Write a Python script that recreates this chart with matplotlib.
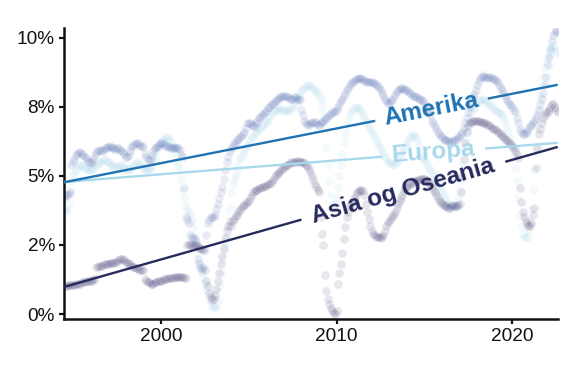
#!/usr/bin/env python3
"""Trend chart: monthly share by region with fitted trend lines and inline labels."""

import numpy as np
import pandas as pd
import matplotlib

matplotlib.use("Agg")
import matplotlib.pyplot as plt
import matplotlib.dates as mdates
from matplotlib.ticker import FuncFormatter

plt.rcParams["font.family"] = ["Liberation Sans", "DejaVu Sans"]

# monthly observations, Jul 1994 - Aug 2022 (percent)
start_month = "1994-07-01"
end_month = "2022-08-01"

amerika = [
    4.2, 4.3, 4.3, 4.35, 4.4, 5.4,
    5.5, 5.6, 5.75, 5.8, 5.85, 5.85, 5.8, 5.75, 5.7, 5.65, 5.55, 5.5,
    5.45, 5.5, 5.6, 5.75, 5.85, 5.9, 5.95, 5.95, 5.9, 5.95, 6.0, 6.05,
    6.05, 6.1, 6.05, 6.0, 6.0, 5.95, 6.0, 6.0, 5.95, 5.9, 5.85, 5.8,
    5.7, 5.7, 5.75, 5.9, 6.05, 6.1, 6.15, 6.2, 6.2, 6.15, 6.1, 6.1,
    6.05, 5.8, 5.7, 5.6, 5.55, 5.6, 5.75, 5.9, 6.0, 6.05, 6.1, 6.15,
    6.2, 6.2, 6.15, 6.1, 6.1, 6.05, 6.05, 6.0, 6.0, 6.0, 6.05, 6.0,
    6.0, 5.95, 5.75, 5.7, 4.55, 3.5, 3.4, 3.3, 2.85, 2.8, 2.75, 2.7,
    2.6, 2.0, 1.8, 1.65, 1.6, 1.7, 2.3, 2.85, 3.3, 3.4, 3.5, 3.5,
    3.5, 3.6, 3.8, 4.0, 4.2, 4.4, 4.6, 4.9, 5.2, 5.5, 5.7, 5.9,
    6.0, 6.1, 6.2, 6.2, 6.3, 6.35, 6.4, 6.45, 6.5, 6.6, 6.75, 6.9,
    6.9, 6.9, 6.85, 6.8, 6.8, 6.9, 7.0, 7.1, 7.15, 7.2, 7.25, 7.3,
    7.35, 7.45, 7.5, 7.55, 7.6, 7.65, 7.7, 7.75, 7.8, 7.85, 7.85, 7.9,
    7.9, 7.9, 7.85, 7.85, 7.8, 7.8, 7.8, 7.85, 7.85, 7.8, 7.8, 7.75,
    7.4, 7.2, 7.0, 6.9, 6.85, 6.85, 6.9, 6.9, 6.95, 6.95, 6.9, 6.85,
    6.85, 6.9, 6.95, 7.0, 7.05, 7.1, 7.15, 7.2, 7.25, 7.3, 7.3, 7.35,
    7.4, 7.5, 7.6, 7.7, 7.8, 7.9, 8.0, 8.1, 8.2, 8.3, 8.35, 8.4,
    8.45, 8.5, 8.5, 8.55, 8.55, 8.5, 8.5, 8.45, 8.45, 8.4, 8.4, 8.4,
    8.4, 8.35, 8.35, 8.3, 8.25, 8.2, 8.1, 8.0, 7.9, 7.8, 7.7, 7.65,
    7.65, 7.7, 7.75, 7.85, 7.95, 8.05, 8.1, 8.15, 8.2, 8.2, 8.15, 8.1,
    8.1, 8.05, 8.0, 7.95, 7.9, 7.9, 7.85, 7.85, 7.8, 7.8, 7.75, 7.7,
    7.6, 7.5, 7.4, 7.3, 7.2, 7.0, 6.9, 6.8, 6.7, 6.6, 6.5, 6.45,
    6.4, 6.35, 6.3, 6.3, 6.25, 6.25, 6.2, 6.25, 6.3, 6.3, 6.35, 6.4,
    6.45, 6.5, 6.6, 6.75, 6.9, 7.1, 7.3, 7.5, 7.7, 7.85, 7.95, 8.1,
    8.3, 8.45, 8.55, 8.6, 8.65, 8.6, 8.6, 8.55, 8.6, 8.6, 8.55, 8.5,
    8.5, 8.45, 8.4, 8.3, 8.2, 8.1, 8.0, 7.9, 7.8, 7.7, 7.6, 7.55,
    7.5, 7.4, 7.3, 7.1, 6.9, 6.7, 6.6, 6.5, 6.5, 6.55, 6.6, 6.7,
    6.8, 6.85, 6.9, 7.0, 7.1, 7.2, 7.4, 7.6, 7.8, 8.0, 8.3, 8.6,
    9.0, 9.3, 9.6, 9.9, 10.1, 10.2, 10.3, 10.2,
]

europa = [
    3.8, 3.7, 3.8, 4.0, 4.4, 4.8,
    5.0, 5.1, 5.2, 5.3, 5.35, 5.4, 5.4, 5.35, 5.3, 5.25, 5.2, 5.2,
    5.2, 5.25, 5.3, 5.35, 5.4, 5.45, 5.5, 5.5, 5.55, 5.6, 5.6, 5.55,
    5.5, 5.45, 5.4, 5.4, 5.35, 5.3, 5.3, 5.35, 5.4, 5.4, 5.35, 5.3,
    5.25, 5.2, 5.2, 5.25, 5.3, 5.35, 5.4, 5.45, 5.5, 5.45, 5.4, 5.35,
    5.3, 5.25, 5.2, 5.2, 5.25, 5.3, 5.4, 5.55, 5.7, 5.85, 6.0, 6.1,
    6.2, 6.3, 6.35, 6.4, 6.4, 6.35, 6.3, 6.2, 6.1, 6.0, 5.8, 5.5,
    5.4, 5.2, 4.9, 4.5, 4.2, 3.9, 3.75, 3.7, 3.6, 3.4, 3.1, 2.8,
    2.5, 2.2, 1.9, 1.7, 1.5, 1.3, 1.1, 0.9, 0.7, 0.5, 0.35, 0.25,
    0.3, 0.2, 0.25, 0.5, 1.0, 1.5, 2.0, 2.3, 2.6, 2.8, 3.2, 3.8,
    4.4, 4.7, 4.9, 5.0, 5.2, 5.4, 5.6, 5.7, 5.8, 5.9, 6.0, 6.1,
    6.2, 6.3, 6.4, 6.45, 6.5, 6.6, 6.65, 6.7, 6.75, 6.8, 6.85, 6.9,
    6.95, 7.0, 7.1, 7.2, 7.3, 7.35, 7.4, 7.4, 7.45, 7.45, 7.4, 7.4,
    7.4, 7.4, 7.35, 7.35, 7.4, 7.45, 7.5, 7.6, 7.7, 7.8, 7.9, 8.0,
    8.1, 8.15, 8.2, 8.25, 8.3, 8.3, 8.25, 8.2, 8.15, 8.1, 8.05, 8.0,
    7.9, 7.8, 7.6, 7.3, 6.8, 6.0, 5.4, 4.8, 4.3, 4.0, 3.9, 4.0,
    4.2, 4.6, 5.0, 5.4, 5.8, 6.2, 6.5, 6.8, 7.0, 7.2, 7.3, 7.4,
    7.45, 7.5, 7.5, 7.45, 7.4, 7.3, 7.2, 7.1, 7.0, 6.9, 6.8, 6.7,
    6.6, 6.5, 6.4, 6.3, 6.2, 6.1, 6.0, 5.9, 5.8, 5.7, 5.6, 5.5,
    5.5, 5.45, 5.4, 5.4, 5.45, 5.5, 5.6, 5.7, 5.8, 5.9, 6.0, 6.1,
    6.2, 6.3, 6.4, 6.45, 6.5, 6.45, 6.4, 6.3, 6.1, 5.9, 5.7, 5.6,
    5.6, 5.5, 5.4, 5.3, 5.2, 5.1, 5.0, 4.9, 4.8, 4.7, 4.6, 4.5,
    4.4, 4.3, 4.2, 4.1, 4.0, 3.95, 3.9, 3.85, 3.85, 3.9, 4.0, 4.2,
    4.5, 4.9, 5.4, 5.9, 6.3, 6.6, 6.9, 7.1, 7.3, 7.4, 7.5, 7.6,
    7.65, 7.7, 7.75, 7.8, 7.8, 7.75, 7.7, 7.65, 7.6, 7.55, 7.5, 7.45,
    7.4, 7.35, 7.3, 7.3, 7.25, 7.2, 7.1, 7.0, 6.8, 6.6, 6.4, 6.2,
    6.0, 5.7, 5.3, 4.8, 4.2, 3.6, 3.2, 2.9, 2.8, 2.75, 2.8, 3.0,
    3.3, 3.8, 4.5, 5.2, 6.0, 6.8, 7.4, 7.9, 8.3, 8.6, 8.9, 9.1,
    9.3, 9.45, 9.6, 9.7, 9.7, 9.6, 9.5, 9.4,
]

asia = [
    1.0, 1.0, 1.0, 1.05, 1.05, 1.05,
    1.05, 1.05, 1.1, 1.1, 1.1, 1.1, 1.15, 1.15, 1.15, 1.2, 1.2, 1.2,
    1.2, 1.2, 1.25, 1.25, 1.7, 1.7, 1.75, 1.75, 1.75, 1.8, 1.8, 1.8,
    1.8, 1.85, 1.85, 1.85, 1.85, 1.9, 1.9, 1.95, 2.0, 2.0, 2.0, 1.95,
    1.9, 1.85, 1.85, 1.8, 1.75, 1.7, 1.7, 1.65, 1.65, 1.6, 1.6, 1.6,
    1.6, 1.25, 1.2, 1.15, 1.15, 1.1, 1.1, 1.1, 1.15, 1.15, 1.2, 1.2,
    1.2, 1.2, 1.25, 1.25, 1.25, 1.3, 1.3, 1.3, 1.3, 1.35, 1.35, 1.35,
    1.35, 1.35, 1.35, 1.35, 1.3, 1.3, 2.5, 2.55, 2.5, 2.5, 2.45, 2.5,
    2.5, 2.45, 2.4, 2.4, 2.35, 2.3, 1.6, 1.2, 1.0, 0.75, 0.6, 0.5,
    0.55, 0.7, 0.9, 1.2, 1.5, 1.8, 2.1, 2.4, 2.75, 3.0, 3.2, 3.35,
    3.2, 3.35, 3.45, 3.55, 3.6, 3.7, 3.75, 3.85, 3.9, 3.95, 4.0, 4.05,
    4.1, 4.2, 4.3, 4.4, 4.45, 4.5, 4.5, 4.55, 4.55, 4.6, 4.6, 4.65,
    4.65, 4.7, 4.7, 4.75, 4.8, 4.9, 5.0, 5.05, 5.1, 5.15, 5.2, 5.25,
    5.3, 5.35, 5.4, 5.4, 5.45, 5.5, 5.5, 5.5, 5.5, 5.55, 5.55, 5.5,
    5.5, 5.5, 5.45, 5.4, 5.35, 5.25, 5.15, 5.0, 4.85, 4.7, 4.6, 4.5,
    4.4, 3.5, 2.9, 2.5, 1.4, 0.85, 0.55, 0.35, 0.2, 0.1, 0.05, 0.0,
    0.1, 1.1, 1.5, 1.8, 2.2, 2.7, 3.15, 3.5, 3.7, 3.9, 4.0, 4.1,
    4.2, 4.3, 4.4, 4.45, 4.5, 4.5, 4.45, 4.3, 4.0, 3.7, 3.45, 3.2,
    3.0, 2.9, 2.85, 2.8, 2.8, 2.8, 2.75, 2.8, 2.85, 3.0, 3.2, 3.3,
    3.35, 3.45, 3.55, 3.6, 3.7, 3.85, 4.0, 4.1, 4.2, 4.3, 4.45, 4.55,
    4.6, 4.65, 4.7, 4.75, 4.75, 4.8, 4.8, 4.85, 4.85, 4.9, 4.9, 4.9,
    4.9, 4.85, 4.8, 4.75, 4.7, 4.6, 4.5, 4.4, 4.3, 4.2, 4.1, 4.05,
    4.0, 3.95, 3.9, 3.9, 3.85, 3.85, 3.9, 3.95, 3.9, 3.9, 3.9, 3.95,
    4.0, 4.4, 5.0, 5.6, 6.2, 6.6, 6.8, 6.9, 6.95, 7.0, 7.0, 7.0,
    7.0, 7.0, 6.95, 6.95, 6.9, 6.9, 6.9, 6.85, 6.85, 6.8, 6.75, 6.7,
    6.7, 6.65, 6.6, 6.55, 6.5, 6.45, 6.4, 6.35, 6.3, 6.25, 6.2, 6.15,
    6.1, 6.0, 5.9, 5.8, 5.65, 4.55, 4.05, 3.7, 3.5, 3.35, 3.25, 3.2,
    3.2, 3.3, 3.6, 3.85, 5.3, 6.0, 6.5, 6.7, 6.9, 7.1, 7.2, 7.3,
    7.3, 7.4, 7.5, 7.6, 7.6, 7.5, 7.4, 7.3,
]

# fitted trend line, value at first and last month (percent)
trend_start = {"Amerika": 4.77, "Europa": 4.78, "Asia og Oseania": 0.98}
trend_end = {"Amerika": 8.3, "Europa": 6.2, "Asia og Oseania": 6.05}

# label centre and the gap cut out of the line for it (decimal years)
label_at = {"Amerika": 2015.4, "Europa": 2015.5, "Asia og Oseania": 2013.8}
label_gap = {"Amerika": (2012.2, 2018.6), "Europa": (2012.6, 2018.45),
             "Asia og Oseania": (2008.0, 2019.6)}

line_colors = {"Amerika": "#1f72b4", "Europa": "#a8d8ec", "Asia og Oseania": "#262a5c"}
dot_colors = {"Amerika": "#3c5aa8", "Europa": "#8fcbe6", "Asia og Oseania": "#3a3470"}
dot_alpha = {"Amerika": 0.11, "Europa": 0.09, "Asia og Oseania": 0.12}


def to_date(year):
    return pd.Timestamp("2000-01-01") + pd.to_timedelta((year - 2000) * 365.25, unit="D")


def main() -> None:
    months = pd.date_range(start_month, end_month, freq="MS")
    series = {"Amerika": amerika, "Europa": europa, "Asia og Oseania": asia}

    fig = plt.figure(figsize=(5.79, 3.68), dpi=100)
    ax = fig.add_axes([0.1105, 0.1332, 0.853, 0.791])

    for name in ["Europa", "Amerika", "Asia og Oseania"]:
        vals = np.array(series[name]) / 100
        ax.scatter(months[:len(vals)], vals, s=38, color=dot_colors[name],
                   alpha=dot_alpha[name], linewidths=0, zorder=2)

    ax.set_xlim(months[0] - pd.Timedelta(days=3), months[-1] + pd.Timedelta(days=3))
    ax.set_ylim(-0.0018, 0.1036)

    x0 = mdates.date2num(months[0])
    x1 = mdates.date2num(months[-1])
    for name in ["Europa", "Amerika", "Asia og Oseania"]:
        y0 = trend_start[name] / 100
        y1 = trend_end[name] / 100

        def y_at(x):
            return y0 + (y1 - y0) * (x - x0) / (x1 - x0)

        g0 = mdates.date2num(to_date(label_gap[name][0]))
        g1 = mdates.date2num(to_date(label_gap[name][1]))
        for a, b in [(x0, g0), (g1, x1)]:
            ax.plot([a, b], [y_at(a), y_at(b)], color=line_colors[name],
                    lw=1.7, solid_capstyle="butt", zorder=3)

        xc = mdates.date2num(to_date(label_at[name]))
        p0 = ax.transData.transform((x0, y0))
        p1 = ax.transData.transform((x1, y1))
        angle = np.degrees(np.arctan2(p1[1] - p0[1], p1[0] - p0[0]))
        ax.text(xc, y_at(xc), name, color=line_colors[name], fontsize=17.5,
                fontweight="bold", rotation=angle, rotation_mode="anchor",
                ha="center", va="center", zorder=4)

    ax.xaxis.set_major_locator(mdates.YearLocator(10))
    ax.xaxis.set_major_formatter(mdates.DateFormatter("%Y"))
    ax.set_yticks([0, 0.025, 0.05, 0.075, 0.1])
    ax.yaxis.set_major_formatter(FuncFormatter(lambda v, _: f"{round(v * 100)}%"))

    for side in ["top", "right"]:
        ax.spines[side].set_visible(False)
    for side in ["left", "bottom"]:
        ax.spines[side].set_linewidth(1.8)
        ax.spines[side].set_color("#111111")
    ax.tick_params(axis="both", length=3.5, width=1.6, color="#111111",
                   labelsize=13.7, labelcolor="#111111", pad=3)

    fig.savefig("out.png", dpi=100)


if __name__ == "__main__":
    main()
